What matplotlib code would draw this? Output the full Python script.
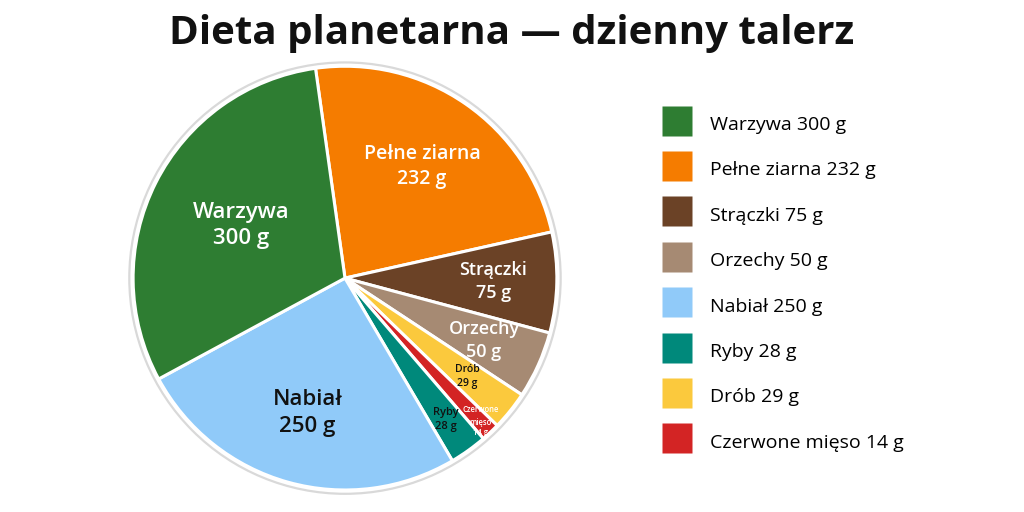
import matplotlib
matplotlib.use("Agg")
import matplotlib.pyplot as plt
from matplotlib.patches import Circle
from matplotlib.lines import Line2D
import numpy as np

plt.rcParams['font.family'] = ['Open Sans', 'DejaVu Sans']

# Data (pie order, clockwise from top)
pie_names = ["Pełne ziarna", "Strączki", "Orzechy", "Drób", "Czerwone mięso", "Ryby", "Nabiał", "Warzywa"]
pie_values = [232, 75, 50, 29, 14, 28, 250, 300]
pie_label_text = ["Pełne ziarna", "Strączki", "Orzechy", "Drób", "Czerwone\nmięso", "Ryby", "Nabiał", "Warzywa"]

legend_names = ["Warzywa", "Pełne ziarna", "Strączki", "Orzechy", "Nabiał", "Ryby", "Drób", "Czerwone mięso"]

colors = {
    "Warzywa": "#2e7d32",
    "Pełne ziarna": "#f57c00",
    "Strączki": "#6b4226",
    "Orzechy": "#a68a73",
    "Nabiał": "#90caf9",
    "Ryby": "#00897b",
    "Drób": "#fbc93d",
    "Czerwone mięso": "#d32424",
}
text_colors = {
    "Warzywa": "white", "Pełne ziarna": "white", "Strączki": "white", "Orzechy": "white",
    "Nabiał": "#111111", "Ryby": "#111111", "Drób": "#111111", "Czerwone mięso": "white",
}
label_sizes = {
    "Warzywa": 16, "Pełne ziarna": 14, "Strączki": 13, "Orzechy": 13,
    "Nabiał": 16, "Ryby": 8, "Drób": 7.5, "Czerwone mięso": 5.5,
}
label_radius = {
    "Warzywa": 0.55, "Pełne ziarna": 0.64, "Strączki": 0.70, "Orzechy": 0.72,
    "Nabiał": 0.66, "Ryby": 0.82, "Drób": 0.74, "Czerwone mięso": 0.93,
}

fig = plt.figure(figsize=(10.24, 5.12), dpi=100)
fig.patch.set_facecolor("white")

ax = fig.add_axes([0.1195, 0.0223, 0.4348, 0.869])
wedges, _ = ax.pie(
    pie_values,
    colors=[colors[n] for n in pie_names],
    startangle=98,
    counterclock=False,
    radius=1.0,
    wedgeprops=dict(edgecolor="white", linewidth=2.2),
)
ax.add_patch(Circle((0, 0), 1.018, facecolor="none", edgecolor="#d9d9d9", linewidth=1.6, zorder=0))
ax.set_xlim(-1.05, 1.05)
ax.set_ylim(-1.05, 1.05)
ax.set_aspect("equal")
ax.axis("off")

for w, name, txt, v in zip(wedges, pie_names, pie_label_text, pie_values):
    ang = np.deg2rad((w.theta1 + w.theta2) / 2)
    r = label_radius[name]
    ax.text(r * np.cos(ang), r * np.sin(ang), f"{txt}\n{v} g",
            ha="center", va="center", color=text_colors[name],
            fontsize=label_sizes[name], fontweight="semibold", linespacing=1.35)

handles = [Line2D([], [], linestyle="none", marker="s", markersize=22,
                  markerfacecolor=colors[n], markeredgecolor="none") for n in legend_names]
vals = dict(zip(pie_names, pie_values))
labels = [f"{n} {vals[n]} g" for n in legend_names]
fig.legend(handles, labels, loc="upper left", bbox_to_anchor=(0.637, 0.802),
           frameon=False, fontsize=14, handlelength=1.5, handleheight=1.6,
           handletextpad=0.95, labelspacing=1.05, borderpad=0)

fig.text(0.5, 0.935, "Dieta planetarna — dzienny talerz", ha="center", va="center",
         fontsize=29, fontweight="bold", color="#111111")

fig.savefig("out.png", dpi=100, facecolor="white")
